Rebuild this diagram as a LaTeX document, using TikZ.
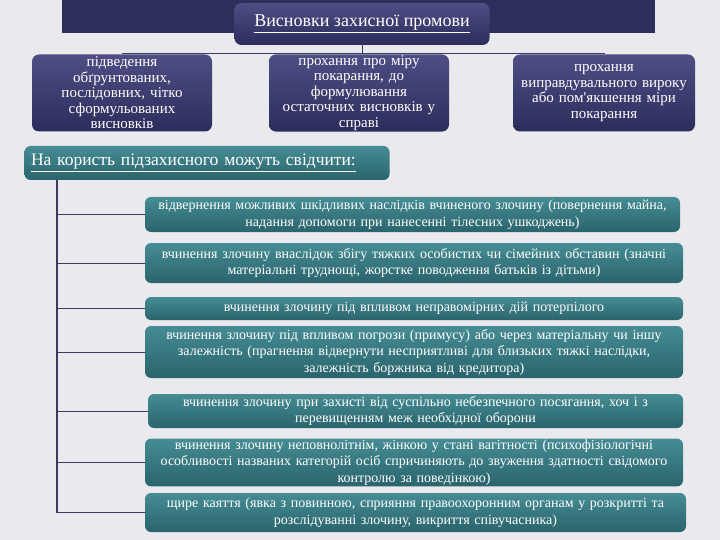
\documentclass[tikz,border=0pt]{standalone}
\usepackage{fontspec}
\setmainfont{Liberation Serif}
\usetikzlibrary{positioning}
\definecolor{navytop}{RGB}{78,78,132}
\definecolor{navybot}{RGB}{44,44,92}
\definecolor{bannerc}{RGB}{46,46,90}
\definecolor{tealtop}{RGB}{70,140,148}
\definecolor{tealbot}{RGB}{42,100,108}
\definecolor{bgc}{RGB}{234,234,238}
\definecolor{linec}{RGB}{60,60,96}
\tikzset{
  navybox/.style={rectangle, rounded corners=7pt, top color=navytop, bottom color=navybot,
    draw=none, text=white, align=center, font=\fontsize{15}{15.5}\selectfont, inner sep=1pt},
  tealbox/.style={rectangle, rounded corners=6pt, top color=tealtop, bottom color=tealbot,
    draw=none, text=white, align=center, font=\fontsize{14}{16.5}\selectfont, inner sep=1pt},
  link/.style={draw=linec, line width=0.8pt},
}
\begin{document}
\begin{tikzpicture}[x=1pt, y=-1pt]
  \useasboundingbox[fill=bgc] (0,0) rectangle (720,540);
  \node (banner) [fill=bannerc, minimum width=593pt, minimum height=33pt, inner sep=0pt] at (358.5,16.5) {};
  \node (title) [navybox, minimum width=255pt, minimum height=42pt, font=\fontsize{18}{20}\selectfont] at (362,24) {\underline{Висновки захисної промови}};

  \node (b1) [navybox, minimum width=180pt, minimum height=77pt, text width=178pt] at (122,93) {підведення\\обґрунтованих,\\послідовних, чітко\\сформульованих\\висновків};
  \node (b2) [navybox, minimum width=178pt, minimum height=77pt, text width=178pt] at (359,93) {прохання про міру\\покарання, до\\формулювання\\остаточних висновків у\\справі};
  \node (b3) [navybox, minimum width=182pt, minimum height=77pt, text width=180pt] at (604,93) {прохання\\виправдувального вироку\\або пом\textquotesingle якшення міри\\покарання};

  \coordinate (bus) at (0,53);
  \draw[link] (title.south) -- (title.south |- b2.north);
  \draw[link] (b1.north) -- (b1.north |- bus) -- (b3.north |- bus) -- (b3.north);

  \node (hdr) [tealbox, minimum width=365pt, minimum height=34pt, text width=352pt, align=left, font=\fontsize{17.5}{20}\selectfont] at (207,163) {\underline{На користь підзахисного можуть свідчити:}};

  \node (i1) [tealbox, minimum width=535pt, minimum height=35pt, text width=533pt] at (412.5,214.5) {відвернення можливих шкідливих наслідків вчиненого злочину (повернення майна,\\надання допомоги при нанесенні тілесних ушкоджень)};
  \node (i2) [tealbox, minimum width=538pt, minimum height=40pt, text width=536pt] at (414,263) {вчинення злочину внаслідок збігу тяжких особистих чи сімейних обставин (значні\\матеріальні труднощі, жорстке поводження батьків із дітьми)};
  \node (i3) [tealbox, minimum width=538pt, minimum height=23pt, text width=536pt] at (414,308.5) {вчинення злочину під впливом неправомірних дій потерпілого};
  \node (i4) [tealbox, minimum width=538pt, minimum height=52pt, text width=536pt] at (414,352) {вчинення злочину під впливом погрози (примусу) або через матеріальну чи іншу\\залежність (прагнення відвернути несприятливі для близьких тяжкі наслідки,\\залежність боржника від кредитора)};
  \node (i5) [tealbox, minimum width=535pt, minimum height=34pt, text width=533pt] at (415.5,411) {вчинення злочину при захисті від суспільно небезпечного посягання, хоч і з\\перевищенням меж необхідної оборони};
  \node (i6) [tealbox, minimum width=538pt, minimum height=45pt, text width=536pt] at (414,462.5) {вчинення злочину неповнолітнім, жінкою у стані вагітності (психофізіологічні\\особливості названих категорій осіб спричиняють до звуження здатності свідомого\\контролю за поведінкою)};
  \node (i7) [tealbox, minimum width=541pt, minimum height=39pt, text width=539pt] at (415.5,512.5) {щире каяття (явка з повинною, сприяння правоохоронним органам у розкритті та\\розслідуванні злочину, викриття співучасника)};

  \coordinate (spine) at (57,180);
  \draw[link, line width=1.6pt] (spine) -- (spine |- i7.west);
  \foreach \n in {i1,i2,i3,i4,i5,i6,i7}
    \draw[link] (spine |- \n.west) -- (\n.west);
\end{tikzpicture}
\end{document}
